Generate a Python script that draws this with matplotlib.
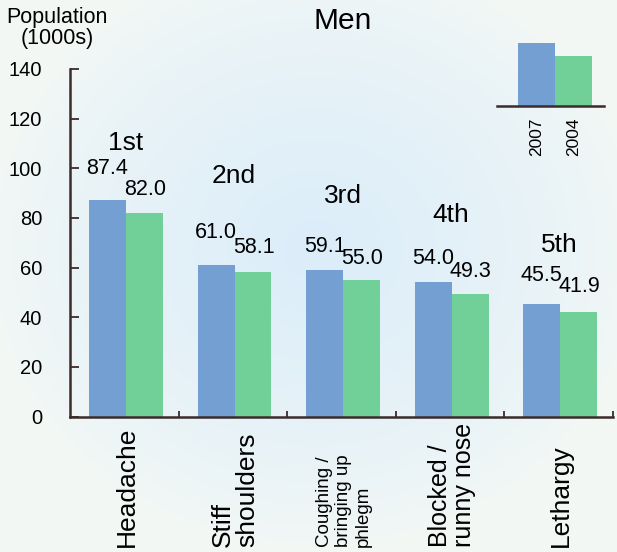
import numpy as np
import matplotlib
matplotlib.use("Agg")
import matplotlib.pyplot as plt
import matplotlib.transforms as mtransforms

plt.rcParams['font.family'] = ['Liberation Sans', 'DejaVu Sans']

# Data (thousands of people)
symptoms = ["Headache", "Stiff\nshoulders", "Coughing /\nbringing up\nphlegm",
            "Blocked /\nrunny nose", "Lethargy"]
ranks = ["1st", "2nd", "3rd", "4th", "5th"]
men_2007 = [87.4, 61.0, 59.1, 54.0, 45.5]
men_2004 = [82.0, 58.1, 55.0, 49.3, 41.9]
years = ["2007", "2004"]
yticks = [0, 20, 40, 60, 80, 100, 120, 140]

# layout bits
label_size = [19, 19, 13.5, 18, 19]
gap_2007 = [15, 16, 9, 10, 13]   # points above bar
gap_2004 = [9, 10, 8, 9, 11]
rank_y = [110, 96.8, 89, 81, 69.2]
legend_heights = [1.0, 0.8]

blue = "#739fd3"
green = "#71cf98"
dark = "#3b2b2b"

W, H = 617, 552
fig = plt.figure(figsize=(W / 100, H / 100), dpi=100)

# radial background glow
bg = fig.add_axes([0, 0, 1, 1], zorder=-10)
yy, xx = np.mgrid[0:H, 0:W]
r = np.sqrt(((xx - 315) / 330.0) ** 2 + ((yy - 250) / 300.0) ** 2)
t = np.clip(1 - r, 0, 1) ** 0.7
c_in = np.array([0.86, 0.93, 0.98])
c_out = np.array([0.955, 0.972, 0.960])
img = c_out + (c_in - c_out) * t[..., None]
bg.imshow(img, aspect="auto", extent=[0, 1, 0, 1])
bg.axis("off")

ax = fig.add_axes([70 / W, 1 - 416.5 / H, 543 / W, (416.5 - 69) / H])
ax.patch.set_visible(False)

x = np.arange(len(symptoms))
w = 0.34
ax.bar(x - 0.155, men_2007, w, color=blue, zorder=2)
ax.bar(x + 0.185, men_2004, w, color=green, zorder=2)

ax.set_xlim(-0.5, len(symptoms) - 0.5)
ax.set_ylim(0, 140)
ax.set_yticks(yticks)
ax.tick_params(axis="y", direction="in", length=6.5, width=1.3, color=dark,
               labelsize=14.5, pad=20)
ax.set_xticks([])
ax.set_xticks(np.arange(len(symptoms)) + 0.5, minor=True)
ax.tick_params(axis="x", which="minor", direction="in", length=4.5, width=1.3,
               color=dark)
for s in ["top", "right"]:
    ax.spines[s].set_visible(False)
for s in ["left", "bottom"]:
    ax.spines[s].set_color(dark)
    ax.spines[s].set_linewidth(1.8)

# value labels
for i in range(len(symptoms)):
    ax.annotate(f"{men_2007[i]:.1f}", (x[i] - 0.155, men_2007[i]),
                xytext=(0, gap_2007[i]), textcoords="offset points",
                ha="center", va="bottom", fontsize=15.5)
    ax.annotate(f"{men_2004[i]:.1f}", (x[i] + 0.19, men_2004[i]),
                xytext=(0, gap_2004[i]), textcoords="offset points",
                ha="center", va="bottom", fontsize=15.5)
    ax.text(x[i] + 0.01, rank_y[i], ranks[i], ha="center", va="center",
            fontsize=19)

# category labels, bottom aligned
trans = mtransforms.blended_transform_factory(ax.transData, fig.transFigure)
for i, lab in enumerate(symptoms):
    ax.text(x[i] + 0.02, 1 - 547 / H, lab, transform=trans, rotation=90,
            ha="center", va="bottom", multialignment="left",
            fontsize=label_size[i], linespacing=1.0 if i != 2 else 1.2,
            clip_on=False)

fig.text(343 / W, 1 - 21 / H, "Men", ha="center", va="center", fontsize=21.5)
fig.text(57 / W, 1 - 7 / H, "Population\n(1000s)", ha="center", va="top",
         fontsize=15.5, linespacing=1.0)

# legend drawn as a tiny bar chart
lax = fig.add_axes([497 / W, 1 - 106 / H, 107 / W, 63 / H])
lax.patch.set_visible(False)
lax.bar([0, 1], legend_heights, 1.0, color=[blue, green])
lax.set_xlim(-1.068, 1.824)
lax.set_ylim(0, 1)
lax.set_yticks([])
lax.set_xticks([0, 1])
lax.set_xticklabels(years, rotation=90, fontsize=12.5)
lax.tick_params(axis="x", length=0, pad=8)
for s in ["top", "right", "left"]:
    lax.spines[s].set_visible(False)
lax.spines["bottom"].set_color(dark)
lax.spines["bottom"].set_linewidth(1.8)

fig.savefig("out.png", dpi=100)
